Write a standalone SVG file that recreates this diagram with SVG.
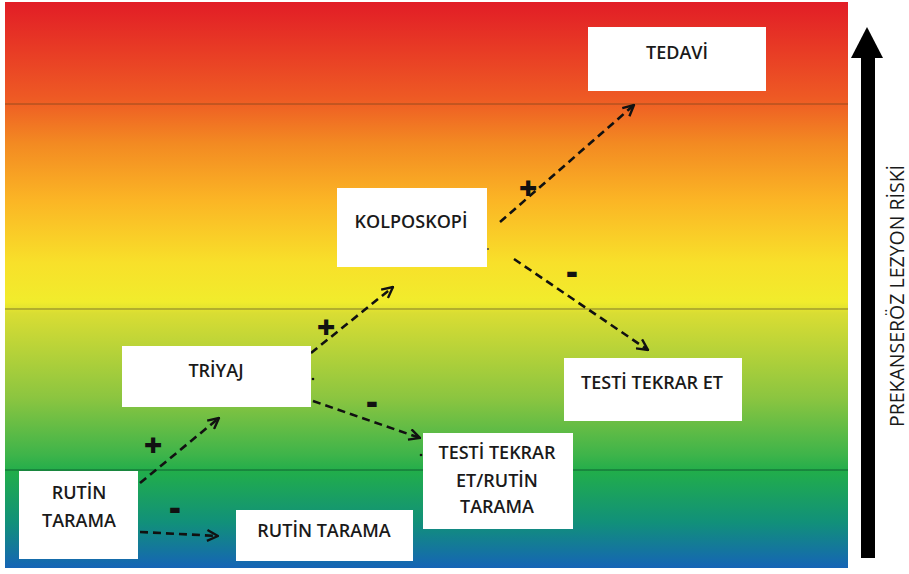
<svg xmlns="http://www.w3.org/2000/svg" width="909" height="574" viewBox="0 0 909 574">
<defs>
<linearGradient id="bg" x1="0" y1="0" x2="0" y2="1">
<stop offset="0" stop-color="#e21d26"/>
<stop offset="0.17" stop-color="#ee5a24"/>
<stop offset="0.25" stop-color="#f38a22"/>
<stop offset="0.35" stop-color="#fbb525"/>
<stop offset="0.46" stop-color="#f8e02a"/>
<stop offset="0.53" stop-color="#f1ec2c"/>
<stop offset="0.55" stop-color="#d9dd33"/>
<stop offset="0.70" stop-color="#8bc540"/>
<stop offset="0.80" stop-color="#3eb44a"/>
<stop offset="0.83" stop-color="#21ad4b"/>
<stop offset="0.92" stop-color="#11907a"/>
<stop offset="1" stop-color="#1664b6"/>
</linearGradient>
<marker id="ah" viewBox="0 0 12 12" refX="11" refY="6" markerWidth="13" markerHeight="13" markerUnits="userSpaceOnUse" orient="auto">
<path d="M1,1 L11,6 L1,11" fill="none" stroke="#111" stroke-width="2.2"/>
</marker>
<style>
.box{fill:#ffffff}
.lbl{font-family:"Open Sans","Liberation Sans",sans-serif;font-weight:600;font-size:18px;fill:#1a1a1a;text-anchor:middle}
.plus{font-family:"Open Sans","Liberation Sans",sans-serif;font-weight:800;font-size:32px;fill:#111;text-anchor:middle}
.minus{font-family:"Open Sans","Liberation Sans",sans-serif;font-weight:800;font-size:34px;fill:#111;text-anchor:middle}
.con{fill:none;stroke:#111;stroke-width:2.6;stroke-dasharray:8 5;marker-end:url(#ah)}
.band{stroke-width:1.6}
</style>
</defs>
<rect width="909" height="574" fill="#ffffff"/>
<rect x="5" y="2" width="843" height="566" fill="url(#bg)"/>
<line class="band" x1="5" y1="104" x2="848" y2="104" stroke="#b4521f"/>
<line class="band" x1="5" y1="309" x2="848" y2="309" stroke="#a29d2b"/>
<line class="band" x1="5" y1="470" x2="848" y2="470" stroke="#167a3a"/>

<g id="risk-axis">
<rect x="861" y="55" width="14" height="503" fill="#000"/>
<polygon points="867,27 883,58 851,58" fill="#000"/>
<text x="0" y="0" transform="translate(904,296) rotate(-90)" font-family="'Open Sans','Liberation Sans',sans-serif" font-size="19.5" fill="#1a1a1a" text-anchor="middle">PREKANSERÖZ LEZYON RİSKİ</text>
</g>

<g id="connectors">
<path class="con" d="M140,483 L219,418"/>
<path class="con" d="M140,532 L218,536"/>
<path class="con" d="M311,353 L393,287"/>
<path class="con" d="M313,401 L420,438"/>
<path class="con" d="M500,222 L634,105"/>
<path class="con" d="M514,259 L648,350"/>
<text class="plus" x="153" y="457">+</text>
<text class="minus" x="175" y="519">-</text>
<text class="plus" x="326" y="339">+</text>
<text class="minus" x="372" y="413">-</text>
<text class="plus" x="528" y="200">+</text>
<text class="minus" x="572" y="283">-</text>
<circle cx="313" cy="379" r="1.3" fill="#111"/>
<circle cx="421" cy="455" r="1.3" fill="#111"/>
<circle cx="488" cy="249" r="1" fill="#444"/>
</g>

<g id="tedavi">
<rect class="box" x="588" y="27" width="178" height="64"/>
<text class="lbl" x="677" y="59">TEDAVİ</text>
</g>
<g id="kolposkopi">
<rect class="box" x="337" y="188" width="150" height="79"/>
<text class="lbl" x="411" y="228">KOLPOSKOPİ</text>
</g>
<g id="triyaj">
<rect class="box" x="122" y="346" width="189" height="61"/>
<text class="lbl" x="216" y="377">TRİYAJ</text>
</g>
<g id="testi-tekrar-et">
<rect class="box" x="564" y="358" width="178" height="63"/>
<text class="lbl" x="652" y="389">TESTİ TEKRAR ET</text>
</g>
<g id="testi-tekrar-rutin">
<rect class="box" x="423" y="433" width="150" height="96"/>
<text class="lbl" x="497" y="459">TESTİ TEKRAR</text>
<text class="lbl" x="497" y="487">ET/RUTİN</text>
<text class="lbl" x="497" y="513">TARAMA</text>
</g>
<g id="rutin-tarama-start">
<rect class="box" x="19" y="471" width="119" height="88"/>
<text class="lbl" x="79" y="499">RUTİN</text>
<text class="lbl" x="79" y="527">TARAMA</text>
</g>
<g id="rutin-tarama-end">
<rect class="box" x="236" y="510" width="177" height="51"/>
<text class="lbl" x="324" y="537">RUTİN TARAMA</text>
</g>
</svg>
